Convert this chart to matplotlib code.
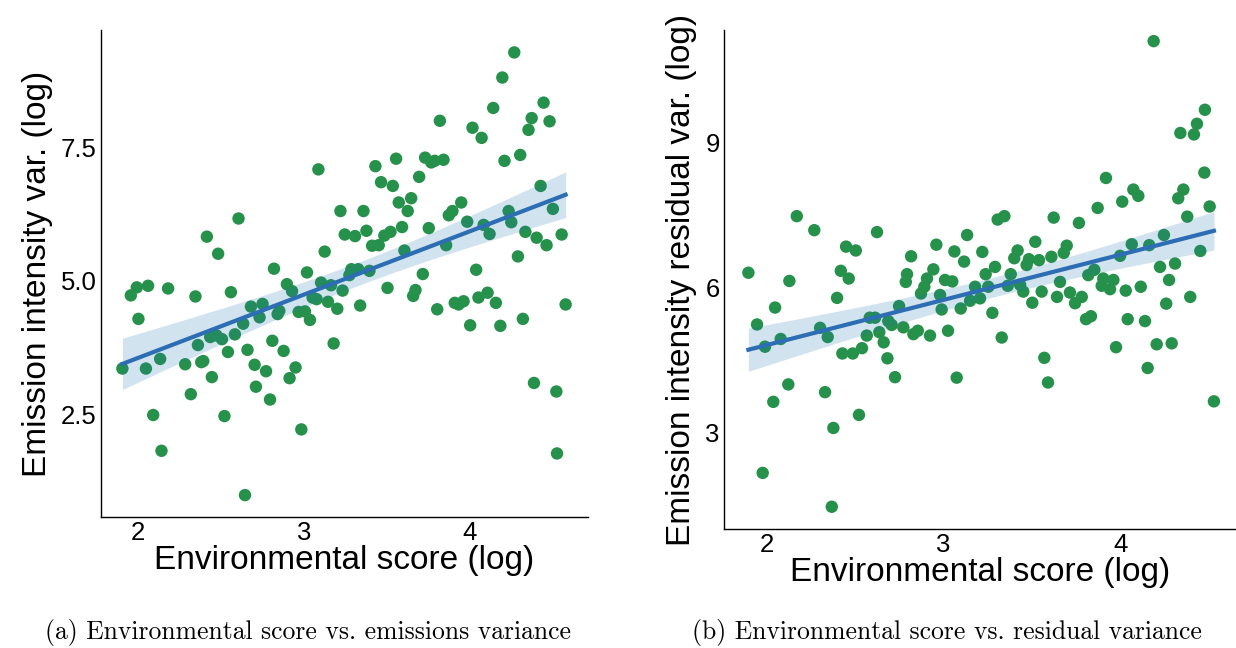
import numpy as np
import matplotlib
matplotlib.use("Agg")
import matplotlib.pyplot as plt

# ---------------- data: panel (a) ----------------
env_a = [3.088, 3.221, 2.606, 3.247, 2.415, 2.483, 3.126, 2.820, 3.019, 4.270,
         4.198, 4.143, 4.447, 4.375, 4.483, 4.356, 3.821, 4.018, 4.073, 4.306,
         4.211, 3.432, 3.557, 3.732, 3.769, 3.790, 3.843, 3.466, 3.537, 3.696,
         3.573, 3.648, 3.627, 3.360, 3.950, 3.897, 3.875, 4.429, 4.503, 4.236,
         4.252, 3.986, 4.085, 4.121, 3.309, 3.378, 3.486, 3.523, 3.593, 3.412,
         3.452, 3.754, 4.337, 4.405, 4.465, 4.556, 3.607, 3.859, 4.292, 3.287,
         3.328, 3.396, 3.718, 4.040, 1.956, 1.992, 2.060, 2.181, 2.346, 2.560,
         2.002, 2.898, 2.929, 3.104, 3.164, 3.234, 2.681, 2.751, 2.733, 2.852,
         2.842, 2.969, 3.007, 3.037, 3.053, 3.077, 3.146, 3.202, 2.634, 2.584,
         2.435, 2.473, 2.506, 2.361, 1.905, 2.047, 2.133, 2.284, 2.381, 2.393,
         2.445, 2.542, 2.660, 2.810, 2.878, 2.703, 2.772, 2.711, 2.796, 2.950,
         2.914, 3.180, 2.318, 2.091, 2.521, 2.985, 2.141, 2.645, 3.275, 3.340,
         3.505, 3.674, 3.660, 3.805, 3.911, 3.934, 3.964, 4.054, 4.109, 4.159,
         4.004, 4.186, 4.322, 4.580, 4.389, 4.524, 4.528]
emis_a = [7.09, 6.31, 6.17, 5.87, 5.83, 5.51, 5.55, 5.23, 5.16, 9.28,
          8.81, 8.24, 8.34, 8.05, 7.99, 7.83, 8.00, 7.87, 7.68, 7.36,
          7.25, 7.15, 7.29, 7.31, 7.22, 7.25, 7.27, 6.85, 6.78, 6.95,
          6.47, 6.55, 6.31, 6.31, 6.47, 6.31, 6.23, 6.78, 6.35, 6.31,
          6.10, 6.11, 6.05, 5.88, 5.84, 5.94, 5.85, 5.92, 6.01, 5.66,
          5.67, 5.99, 5.92, 5.81, 5.67, 5.87, 5.57, 5.67, 5.46, 5.22,
          5.22, 5.19, 5.13, 5.21, 4.73, 4.88, 4.91, 4.86, 4.71, 4.79,
          4.29, 4.94, 4.81, 4.97, 4.92, 4.82, 4.52, 4.57, 4.32, 4.44,
          4.38, 4.42, 4.43, 4.27, 4.69, 4.66, 4.61, 4.48, 4.20, 4.00,
          3.95, 3.98, 3.91, 3.80, 3.36, 3.36, 3.54, 3.44, 3.48, 3.50,
          3.20, 3.67, 3.71, 3.88, 3.69, 3.43, 3.31, 3.02, 2.78, 3.38,
          3.18, 3.83, 2.88, 2.49, 2.47, 2.22, 1.82, 0.99, 5.11, 4.54,
          4.87, 4.83, 4.72, 4.47, 4.59, 4.56, 4.62, 4.69, 4.78, 4.59,
          4.17, 4.16, 4.29, 4.56, 3.09, 2.93, 1.77]

# ---------------- data: panel (b) ----------------
env_b = [4.190, 4.480, 4.435, 4.341, 4.418, 4.477, 3.920, 4.358, 4.329, 4.075,
         4.103, 2.170, 2.269, 2.624, 2.449, 2.504, 1.896, 2.128, 2.419, 2.464,
         2.817, 2.960, 3.062, 3.134, 3.117, 2.943, 2.794, 2.787, 2.907, 2.892,
         2.873, 3.009, 3.050, 2.398, 2.047, 1.945, 2.981, 2.990, 3.098, 2.749,
         2.583, 2.613, 2.688, 2.707, 2.773, 2.830, 2.855, 2.924, 3.026, 2.302,
         2.345, 2.079, 1.990, 2.566, 2.637, 2.662, 2.539, 2.487, 2.428, 2.683,
         3.151, 3.179, 2.726, 3.075, 2.122, 2.037, 2.330, 2.522, 2.377, 1.977,
         2.368, 3.307, 3.345, 3.624, 3.767, 3.873, 4.012, 4.507, 4.380, 3.220,
         3.520, 3.420, 3.401, 3.484, 3.471, 3.541, 3.611, 3.698, 3.681, 3.292,
         3.239, 3.254, 3.381, 3.364, 3.434, 3.452, 3.207, 3.556, 3.660, 3.503,
         3.643, 3.716, 3.783, 3.745, 3.277, 3.330, 3.571, 3.807, 3.835, 3.820,
         3.854, 3.905, 3.962, 3.896, 3.943, 4.000, 4.066, 4.165, 4.248, 4.032,
         4.117, 4.226, 4.311, 4.277, 4.454, 4.397, 4.261, 4.043, 4.141, 3.977,
         4.207, 4.292, 3.592, 4.156, 4.531]
resid_b = [11.09, 9.67, 9.38, 9.19, 9.16, 8.37, 8.26, 8.02, 7.84, 8.02,
           7.89, 7.47, 7.18, 7.14, 6.84, 6.76, 6.30, 6.13, 6.34, 6.18,
           6.64, 6.88, 6.74, 7.08, 6.53, 6.37, 6.27, 6.11, 6.18, 6.01,
           5.87, 6.15, 6.12, 5.78, 5.58, 5.23, 5.84, 5.54, 5.56, 5.61,
           5.37, 5.37, 5.30, 5.22, 5.17, 5.03, 5.10, 5.00, 5.10, 5.16,
           4.97, 4.93, 4.77, 5.00, 5.07, 4.86, 4.74, 4.63, 4.63, 4.53,
           5.72, 6.01, 4.14, 4.13, 3.99, 3.63, 3.83, 3.36, 3.09, 2.16,
           1.46, 7.40, 7.47, 7.44, 7.33, 7.64, 7.77, 7.67, 7.46, 6.73,
           6.94, 6.76, 6.60, 6.58, 6.46, 6.56, 6.63, 6.86, 6.71, 6.42,
           6.27, 6.01, 6.27, 6.03, 6.05, 5.91, 5.77, 5.91, 6.11, 5.68,
           5.80, 5.89, 5.80, 5.67, 5.47, 4.96, 4.54, 5.34, 5.40, 6.25,
           6.36, 6.18, 6.15, 6.03, 5.96, 6.65, 6.89, 6.87, 7.08, 5.93,
           6.01, 6.42, 6.49, 6.15, 6.75, 5.80, 5.66, 5.34, 5.30, 4.76,
           4.82, 4.84, 4.03, 4.33, 3.64]

xticks = [2, 3, 4]
yticks_a = [2.5, 5.0, 7.5]
yticks_b = [3, 6, 9]
ytick_labels_a = ["2.5", "5.0", "7.5"]
ytick_labels_b = ["3", "6", "9"]

xlabel = "Environmental score (log)"
ylabel_a = "Emission intensity var. (log)"
ylabel_b = "Emission intensity residual var. (log)"
caption_a = "(a) Environmental score vs. emissions variance"
caption_b = "(b) Environmental score vs. residual variance"

POINT = "#26914a"
LINE = "#2c6db3"
BAND = "#1f77b4"

plt.rcParams["font.family"] = ["Liberation Sans", "DejaVu Sans"]

fig = plt.figure(figsize=(12.36, 6.48), dpi=100)
W, H = 1236.0, 648.0


def add_ax(x0, y0, x1, y1):
    return fig.add_axes([x0 / W, 1 - y1 / H, (x1 - x0) / W, (y1 - y0) / H])


def regpanel(ax, x, y):
    x = np.asarray(x, float)
    y = np.asarray(y, float)
    ax.scatter(x, y, s=80, color=POINT, edgecolor="none", zorder=2)
    n = len(x)
    b, a = np.polyfit(x, y, 1)
    grid = np.linspace(x.min(), x.max(), 100)
    fit = a + b * grid
    resid = y - (a + b * x)
    s = np.sqrt(np.sum(resid ** 2) / (n - 2))
    sxx = np.sum((x - x.mean()) ** 2)
    se = s * np.sqrt(1.0 / n + (grid - x.mean()) ** 2 / sxx)
    ax.fill_between(grid, fit - 1.977 * se, fit + 1.977 * se, color=BAND,
                    alpha=0.2, linewidth=0, zorder=3)
    ax.plot(grid, fit, color=LINE, lw=3.0, zorder=4)
    for sp in ["top", "right"]:
        ax.spines[sp].set_visible(False)
    for sp in ["left", "bottom"]:
        ax.spines[sp].set_color("black")
        ax.spines[sp].set_linewidth(1.0)
    ax.tick_params(length=0, labelsize=18.5, pad=3)
    ax.set_facecolor("white")


axA = add_ax(101, 30, 588, 517)
regpanel(axA, env_a, emis_a)
axA.set_xlim(1.776, 4.715)
axA.set_ylim(0.58, 9.70)
axA.set_xticks(xticks)
axA.set_yticks(yticks_a)
axA.set_yticklabels(ytick_labels_a)
axA.set_xlabel(xlabel, fontsize=24, labelpad=0)
axA.set_ylabel(ylabel_a, fontsize=24, labelpad=6)

axB = add_ax(724, 30, 1236, 529)
regpanel(axB, env_b, resid_b)
axB.set_xlim(1.758, 4.656)
axB.set_ylim(1.0, 11.32)
axB.set_xticks(xticks)
axB.set_yticks(yticks_b)
axB.set_yticklabels(ytick_labels_b)
axB.set_xlabel(xlabel, fontsize=24, labelpad=0)
axB.set_ylabel(ylabel_b, fontsize=24, labelpad=6)

fig.text(308 / W, 1 - 633 / H, caption_a, ha="center", va="center",
         fontsize=18.5, family=["cmr10", "DejaVu Serif"])
fig.text(947 / W, 1 - 633 / H, caption_b, ha="center", va="center",
         fontsize=18.5, family=["cmr10", "DejaVu Serif"])

fig.savefig("out.png", dpi=100, facecolor="white")
